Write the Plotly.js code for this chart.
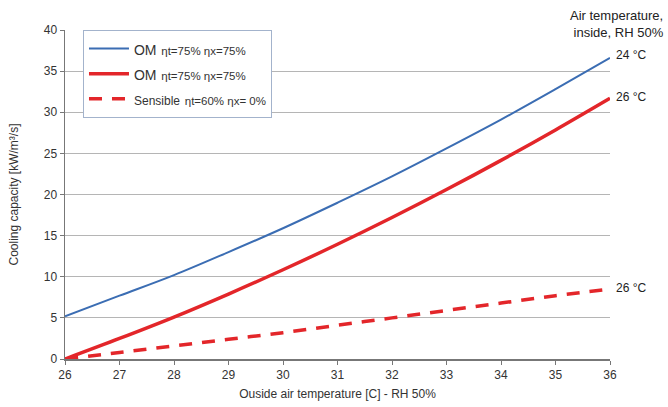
<!DOCTYPE html>
<html>
<head>
<meta charset="utf-8">
<script src="https://cdn.plot.ly/plotly-3.0.1.min.js"></script>
<style>html,body{margin:0;padding:0;background:#fff;}#chart{width:668px;height:407px;}</style>
</head>
<body>
<div id="chart"></div>
<script>
var outsideTemp = [26, 27, 28, 29, 30, 31, 32, 33, 34, 35, 36];
var omBlue  = [5.2, 7.7, 10.2, 13.0, 15.9, 19.0, 22.2, 25.6, 29.1, 32.8, 36.6];
var omRed   = [0.0, 2.5, 5.1, 7.9, 10.85, 13.95, 17.2, 20.6, 24.15, 27.85, 31.7];
var sensible = [0.0, 0.8, 1.6, 2.4, 3.2, 4.1, 5.0, 5.9, 6.8, 7.7, 8.5];
var seriesNames = ["<span style='font-size:14px'>OM</span> <span style='font-size:11.5px'>ηt=75% ηx=75%</span>",
                   "<span style='font-size:14px'>OM</span> <span style='font-size:11.5px'>ηt=75% ηx=75%</span>",
                   "<span style='font-size:12px'>Sensible</span> <span style='font-size:11.5px'>ηt=60% ηx= 0%</span>"];
var endLabels = ["24 °C", "26 °C", "26 °C"];
var xTicks = [26, 27, 28, 29, 30, 31, 32, 33, 34, 35, 36];
var yTicks = [0, 5, 10, 15, 20, 25, 30, 35, 40];

var blue = '#3b6db3', red = '#e3262a';
var font = 'Liberation Sans, Arial, sans-serif';

var traces = [
  {x: outsideTemp, y: omBlue, name: seriesNames[0], mode: 'lines', line: {color: blue, width: 2, shape: 'spline', smoothing: 1}},
  {x: outsideTemp, y: omRed, name: seriesNames[1], mode: 'lines', line: {color: red, width: 3.5, shape: 'spline', smoothing: 1}},
  {x: outsideTemp, y: sensible, name: seriesNames[2], mode: 'lines', line: {color: red, width: 3.5, dash: '13px,10px', shape: 'spline', smoothing: 1}}
];
var ends = [omBlue, omRed, sensible];
var ann = ends.map(function(arr, i){
  return {x: outsideTemp[outsideTemp.length-1], y: arr[arr.length-1], xref: 'x', yref: 'y',
          text: endLabels[i], showarrow: false, xanchor: 'left', xshift: 4, yshift: i===0 ? 3 : 1,
          font: {family: font, size: 12, color: '#222'}};
});
ann.push({x: 1, y: 1, xref: 'paper', yref: 'paper', xanchor: 'right', yanchor: 'bottom', xshift: 56, yshift: -12,
          text: 'Air temperature,<br>inside, RH 50%', align: 'right', showarrow: false,
          font: {family: font, size: 13, color: '#222'}});

var layout = {
  width: 668, height: 407,
  margin: {l: 65, r: 58, t: 30, b: 48},
  paper_bgcolor: '#fff', plot_bgcolor: '#fff',
  font: {family: font, size: 12, color: '#333'},
  showlegend: true,
  legend: {x: 0.033, y: 1.0, xanchor: 'left', yanchor: 'top', bgcolor: '#fff',
           bordercolor: '#a3b3cc', borderwidth: 1, font: {family: font, size: 17, color: '#333'},
           tracegroupgap: 0, itemwidth: 40},
  xaxis: {range: [26, 36], tickvals: xTicks, showgrid: false, zeroline: false,
          showline: true, linecolor: '#777', linewidth: 1.5, ticks: 'outside', ticklen: 4, tickcolor: '#777',
          tickfont: {family: font, size: 12, color: '#333'},
          title: {text: 'Ouside air temperature [C] - RH 50%', font: {family: font, size: 12, color: '#333'}, standoff: 8}},
  yaxis: {range: [0, 40], tickvals: yTicks, showgrid: true, gridcolor: '#b5b5b5', gridwidth: 1, zeroline: false,
          showline: true, linecolor: '#777', linewidth: 1.5, ticks: 'outside', ticklen: 4, tickcolor: '#777',
          tickfont: {family: font, size: 12, color: '#333'},
          title: {text: 'Cooling capacity [kW/m³/s]', font: {family: font, size: 12, color: '#333'}, standoff: 22}},
  annotations: ann
};
Plotly.newPlot('chart', traces, layout, {displayModeBar: false, staticPlot: true});
</script>
</body>
</html>
